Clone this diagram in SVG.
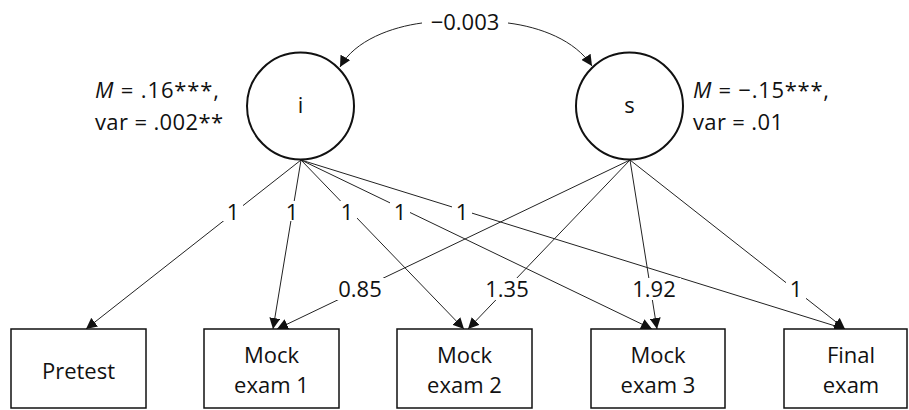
<svg xmlns="http://www.w3.org/2000/svg" width="909" height="410" viewBox="0 0 909 410">
<style>
text{font-family:"Open Sans","Noto Sans","Liberation Sans",sans-serif;font-size:22px;fill:#111;}
.c{text-anchor:middle;}
.box{fill:#fff;stroke:#111;stroke-width:1.5;}
.lat{fill:#fff;stroke:#111;stroke-width:2;}
.ln{fill:none;stroke:#222;stroke-width:1;marker-end:url(#ah);}
.bg{fill:#fff;}
</style>
<defs>
<marker id="ah" viewBox="0 0 10 10" refX="10" refY="5" markerWidth="11" markerHeight="11" markerUnits="userSpaceOnUse" orient="auto">
<path d="M0,0 L10,5 L0,10 z" fill="#111"/>
</marker>
</defs>
<rect width="909" height="410" fill="#fff"/>
<g id="connectors">
<path class="ln" d="M422,23 C392,27 355,40 340,67"/>
<path class="ln" d="M508,23 C540,27 575,40 592,66"/>
<line class="ln" x1="301" y1="160" x2="86" y2="329"/>
<line class="ln" x1="301" y1="160" x2="273" y2="329"/>
<line class="ln" x1="301" y1="160" x2="464" y2="329"/>
<line class="ln" x1="301" y1="160" x2="652" y2="329"/>
<line class="ln" x1="301" y1="160" x2="845" y2="329"/>
<line class="ln" x1="630" y1="160" x2="277" y2="329"/>
<line class="ln" x1="630" y1="160" x2="468" y2="329"/>
<line class="ln" x1="630" y1="160" x2="657" y2="329"/>
<line class="ln" x1="630" y1="160" x2="845" y2="329"/>
</g>
<g id="labels">
<rect class="bg" x="424" y="10" width="82" height="24"/>
<text class="c" x="465" y="30">−0.003</text>
<rect class="bg" x="223" y="201" width="20" height="20"/>
<text class="c" x="233" y="220">1</text>
<rect class="bg" x="282" y="201" width="20" height="20"/>
<text class="c" x="292" y="220">1</text>
<rect class="bg" x="337" y="201" width="20" height="20"/>
<text class="c" x="347" y="220">1</text>
<rect class="bg" x="390" y="201" width="20" height="20"/>
<text class="c" x="400" y="220">1</text>
<rect class="bg" x="452" y="201" width="20" height="20"/>
<text class="c" x="462" y="220">1</text>
<rect class="bg" x="333" y="278" width="54" height="22"/>
<text class="c" x="360" y="297">0.85</text>
<rect class="bg" x="480" y="278" width="54" height="22"/>
<text class="c" x="507" y="297">1.35</text>
<rect class="bg" x="627" y="278" width="54" height="22"/>
<text class="c" x="654" y="297">1.92</text>
<rect class="bg" x="786" y="278" width="20" height="22"/>
<text class="c" x="796" y="297">1</text>
</g>
<g id="node-i">
<circle class="lat" cx="300.5" cy="106" r="53.5"/>
<text class="c" x="300.5" y="113">i</text>
</g>
<g id="node-s">
<circle class="lat" cx="629.5" cy="106" r="53.5"/>
<text class="c" x="629.5" y="113">s</text>
</g>
<g id="ann-i">
<text x="95" y="98" textLength="124" lengthAdjust="spacing"><tspan font-style="italic">M</tspan> = .16***,</text>
<text x="95" y="130" textLength="128" lengthAdjust="spacing">var = .002**</text>
</g>
<g id="ann-s">
<text x="693" y="98" textLength="136" lengthAdjust="spacing"><tspan font-style="italic">M</tspan> = −.15***,</text>
<text x="693" y="130" textLength="90" lengthAdjust="spacing">var = .01</text>
</g>
<g id="node-pretest">
<rect class="box" x="11" y="329" width="135" height="79"/>
<text class="c" x="78.5" y="379">Pretest</text>
</g>
<g id="node-mock1">
<rect class="box" x="204" y="329" width="135" height="79"/>
<text class="c" x="271.5" y="363">Mock</text>
<text class="c" x="271.5" y="393">exam 1</text>
</g>
<g id="node-mock2">
<rect class="box" x="397" y="329" width="135" height="79"/>
<text class="c" x="464.5" y="363">Mock</text>
<text class="c" x="464.5" y="393">exam 2</text>
</g>
<g id="node-mock3">
<rect class="box" x="591" y="329" width="134" height="79"/>
<text class="c" x="658" y="363">Mock</text>
<text class="c" x="658" y="393">exam 3</text>
</g>
<g id="node-final">
<rect class="box" x="784" y="329" width="123" height="79"/>
<text class="c" x="851" y="363">Final</text>
<text class="c" x="851" y="393">exam</text>
</g>
</svg>
